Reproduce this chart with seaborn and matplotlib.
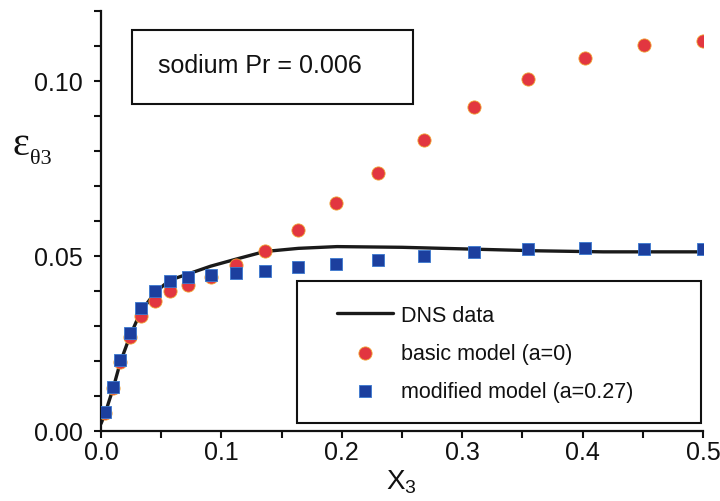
import matplotlib
matplotlib.use("Agg")
import matplotlib.pyplot as plt
import seaborn as sns
import pandas as pd
from matplotlib.patches import Rectangle
from matplotlib.ticker import MultipleLocator

# ---- data ----
dns_x = [0.0, 0.003, 0.01, 0.016, 0.024, 0.033, 0.045, 0.057, 0.0725, 0.091, 0.112,
         0.136, 0.164, 0.196, 0.25, 0.306, 0.362, 0.417, 0.46, 0.5]
dns_y = [0.002, 0.0045, 0.012, 0.0195, 0.027, 0.034, 0.0395, 0.043, 0.0448, 0.0470, 0.0490,
         0.0512, 0.0521, 0.0526, 0.0524, 0.0519, 0.0514, 0.0511, 0.0511, 0.0511]

model_x = [0.003, 0.01, 0.016, 0.024, 0.033, 0.045, 0.057, 0.072, 0.091, 0.112,
           0.136, 0.164, 0.195, 0.23, 0.268, 0.31, 0.355, 0.402, 0.451, 0.5]
basic_y = [0.0052, 0.0122, 0.0195, 0.0267, 0.0327, 0.0371, 0.0398, 0.0417, 0.0438, 0.0473,
           0.0513, 0.0574, 0.0650, 0.0736, 0.0831, 0.0925, 0.1005, 0.1065, 0.1102, 0.1114]
modified_y = [0.0054, 0.0124, 0.0202, 0.0279, 0.0350, 0.0400, 0.0429, 0.0438, 0.0446, 0.0450,
              0.0457, 0.0467, 0.0476, 0.0488, 0.0500, 0.0510, 0.0519, 0.0521, 0.0520, 0.0519]

x_ticks = [0.0, 0.1, 0.2, 0.3, 0.4, 0.5]
y_ticks = [0.00, 0.05, 0.10]

dns = pd.DataFrame({"x": dns_x, "y": dns_y})
basic = pd.DataFrame({"x": model_x, "y": basic_y})
modified = pd.DataFrame({"x": model_x, "y": modified_y})

sns.set_style("ticks")
plt.rcParams["font.family"] = ["Liberation Sans", "DejaVu Sans"]
plt.rcParams["mathtext.fontset"] = "custom"
plt.rcParams["mathtext.rm"] = "Liberation Sans"
plt.rcParams["mathtext.it"] = "Liberation Sans"
plt.rcParams["text.color"] = "#111111"
plt.rcParams["xtick.color"] = "#111111"
plt.rcParams["ytick.color"] = "#111111"

W, H = 720, 502
fig = plt.figure(figsize=(7.2, 5.02), dpi=100)
ax = fig.add_axes([101 / W, (H - 431.7) / H, (703 - 101) / W, (431.7 - 11.7) / H])

sns.lineplot(data=dns, x="x", y="y", ax=ax, color="#1a1a1a", linewidth=2.4,
             label="DNS data", zorder=2, sort=False)
sns.scatterplot(data=basic, x="x", y="y", ax=ax, marker="o", s=90, color="#e23640",
                edgecolor="#f0a030", linewidth=0.6, label="basic model (a=0)", zorder=3)
sns.scatterplot(data=modified, x="x", y="y", ax=ax, marker="s", s=64, color="#1c3f9e",
                edgecolor="#3a78d0", linewidth=0.6, label="modified model (a=0.27)", zorder=4)

ax.set_xlim(0, 0.5)
ax.set_ylim(0, 0.12)
ax.set_xticks(x_ticks)
ax.set_xticklabels([f"{v:.1f}" for v in x_ticks])
ax.set_yticks(y_ticks)
ax.set_yticklabels([f"{v:.2f}" for v in y_ticks])
ax.xaxis.set_minor_locator(MultipleLocator(0.05))
ax.yaxis.set_minor_locator(MultipleLocator(0.01))
ax.tick_params(axis="both", which="both", direction="out", length=5, width=1.5)
ax.tick_params(axis="x", which="major", labelsize=18, pad=2)
ax.tick_params(axis="y", which="major", labelsize=18, pad=8)
for s in ["top", "right"]:
    ax.spines[s].set_visible(False)
for s in ["left", "bottom"]:
    ax.spines[s].set_linewidth(1.6)
    ax.spines[s].set_color("#111111")

ax.set_xlabel("")
ax.set_ylabel("")
fig.text(401 / W, 1 - 482 / H, r"X$_3$", ha="center", va="center", fontsize=20)
fig.text(21 / W, 1 - 146 / H, "ε", ha="center", va="center", fontsize=29,
         family=["Liberation Serif", "DejaVu Serif"])
fig.text(30 / W, 1 - 160 / H, "θ3", ha="left", va="center", fontsize=16,
         family=["Liberation Serif", "DejaVu Serif"])

# annotation box
ax.add_patch(Rectangle((132 / W, 1 - 105 / H), (413 - 132) / W, (105 - 31) / H,
                       transform=fig.transFigure, fill=False, edgecolor="#111111",
                       linewidth=1.5, zorder=5, clip_on=False))
fig.text(260 / W, 1 - 66 / H, "sodium Pr = 0.006", ha="center", va="center", fontsize=18)

# legend
ax.add_patch(Rectangle((297 / W, 1 - 424 / H), (701 - 297) / W, (424 - 282) / H,
                       transform=fig.transFigure, facecolor="white", edgecolor="#111111",
                       linewidth=1.5, zorder=5, clip_on=False))
leg = ax.legend(loc="upper left", bbox_to_anchor=(337 / W, 1 - 306 / H),
                bbox_transform=fig.transFigure, frameon=False, fontsize=15.5,
                borderpad=0, handlelength=2.6, handletextpad=0.35, labelspacing=0.78,
                borderaxespad=0)
leg.set_zorder(6)

fig.savefig("out.png", dpi=100)
